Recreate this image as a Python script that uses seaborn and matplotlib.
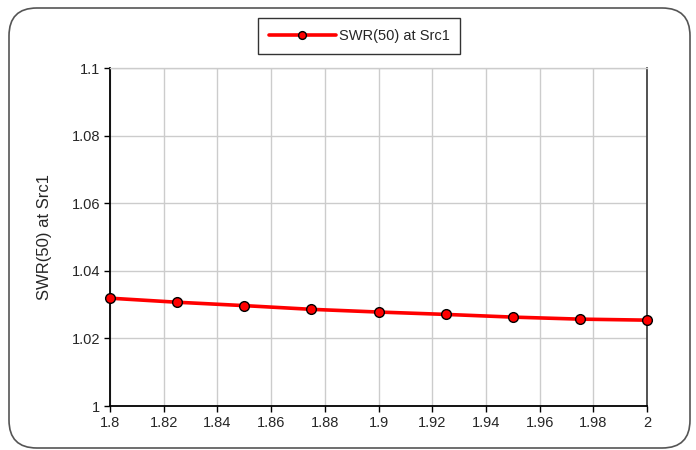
import matplotlib
matplotlib.use("Agg")
import matplotlib.pyplot as plt
from matplotlib.patches import FancyBboxPatch
import pandas as pd
import seaborn as sns

# frequency (x) and SWR values
freq = [1.8, 1.825, 1.85, 1.875, 1.9, 1.925, 1.95, 1.975, 2.0]
swr = [1.0319, 1.0307, 1.0297, 1.0286, 1.0278, 1.0271, 1.0263, 1.0257, 1.0254]
x_ticks = [1.8, 1.82, 1.84, 1.86, 1.88, 1.9, 1.92, 1.94, 1.96, 1.98, 2]
x_tick_labels = ["1.8", "1.82", "1.84", "1.86", "1.88", "1.9", "1.92", "1.94", "1.96", "1.98", "2"]
y_ticks = [1, 1.02, 1.04, 1.06, 1.08, 1.1]
y_tick_labels = ["1", "1.02", "1.04", "1.06", "1.08", "1.1"]
series_name = "SWR(50) at Src1"

df = pd.DataFrame({"freq": freq, "swr": swr})

sns.set_style("white")
plt.rcParams['font.family'] = ['Liberation Sans', 'DejaVu Sans']

fig = plt.figure(figsize=(6.96, 4.5), dpi=100)
fig.patch.set_facecolor("white")

# rounded outer frame like the Excel chart area
frame = FancyBboxPatch((9 / 696, 2 / 450), 681 / 696, 440 / 450,
                       boxstyle="round,pad=0,rounding_size=0.04",
                       transform=fig.transFigure, fill=False,
                       edgecolor="#555555", linewidth=1.2, mutation_aspect=696 / 450)
fig.patches.append(frame)

ax = fig.add_axes([110 / 696, 44 / 450, 537 / 696, 338 / 450])

sns.lineplot(data=df, x="freq", y="swr", ax=ax, color="red", linewidth=2.6,
             marker="o", markersize=7, markerfacecolor="red",
             markeredgecolor="black", markeredgewidth=1.0, label=series_name,
             clip_on=False, zorder=5)

ax.set_xlim(1.8, 2.0)
ax.set_ylim(1.0, 1.1)
ax.set_xticks(x_ticks)
ax.set_xticklabels(x_tick_labels)
ax.set_yticks(y_ticks)
ax.set_yticklabels(y_tick_labels)
ax.grid(True, color="#cccccc", linewidth=1.0)
ax.set_axisbelow(True)

ax.set_xlabel("")
ax.set_ylabel(series_name, fontsize=12, labelpad=14)
ax.tick_params(axis="both", labelsize=10.5, direction="out", length=4, width=1,
               color="black", left=True, bottom=True, pad=3)

for side in ["left", "bottom"]:
    ax.spines[side].set_color("black")
    ax.spines[side].set_linewidth(1.3)
ax.spines["right"].set_color("#444444")
ax.spines["right"].set_linewidth(1.3)
ax.spines["top"].set_color("#cccccc")
ax.spines["top"].set_linewidth(1.0)

leg = ax.legend(loc="center", frameon=True, fancybox=False,
                fontsize=10.5, handlelength=4.6, handletextpad=0.2,
                borderpad=0.75, borderaxespad=0, markerscale=0.8)
leg.set_bbox_to_anchor((359 / 696, 1 - 36 / 450), transform=fig.transFigure)
leg.get_frame().set_edgecolor("black")
leg.get_frame().set_linewidth(1.0)

fig.savefig("out.png", dpi=100)
